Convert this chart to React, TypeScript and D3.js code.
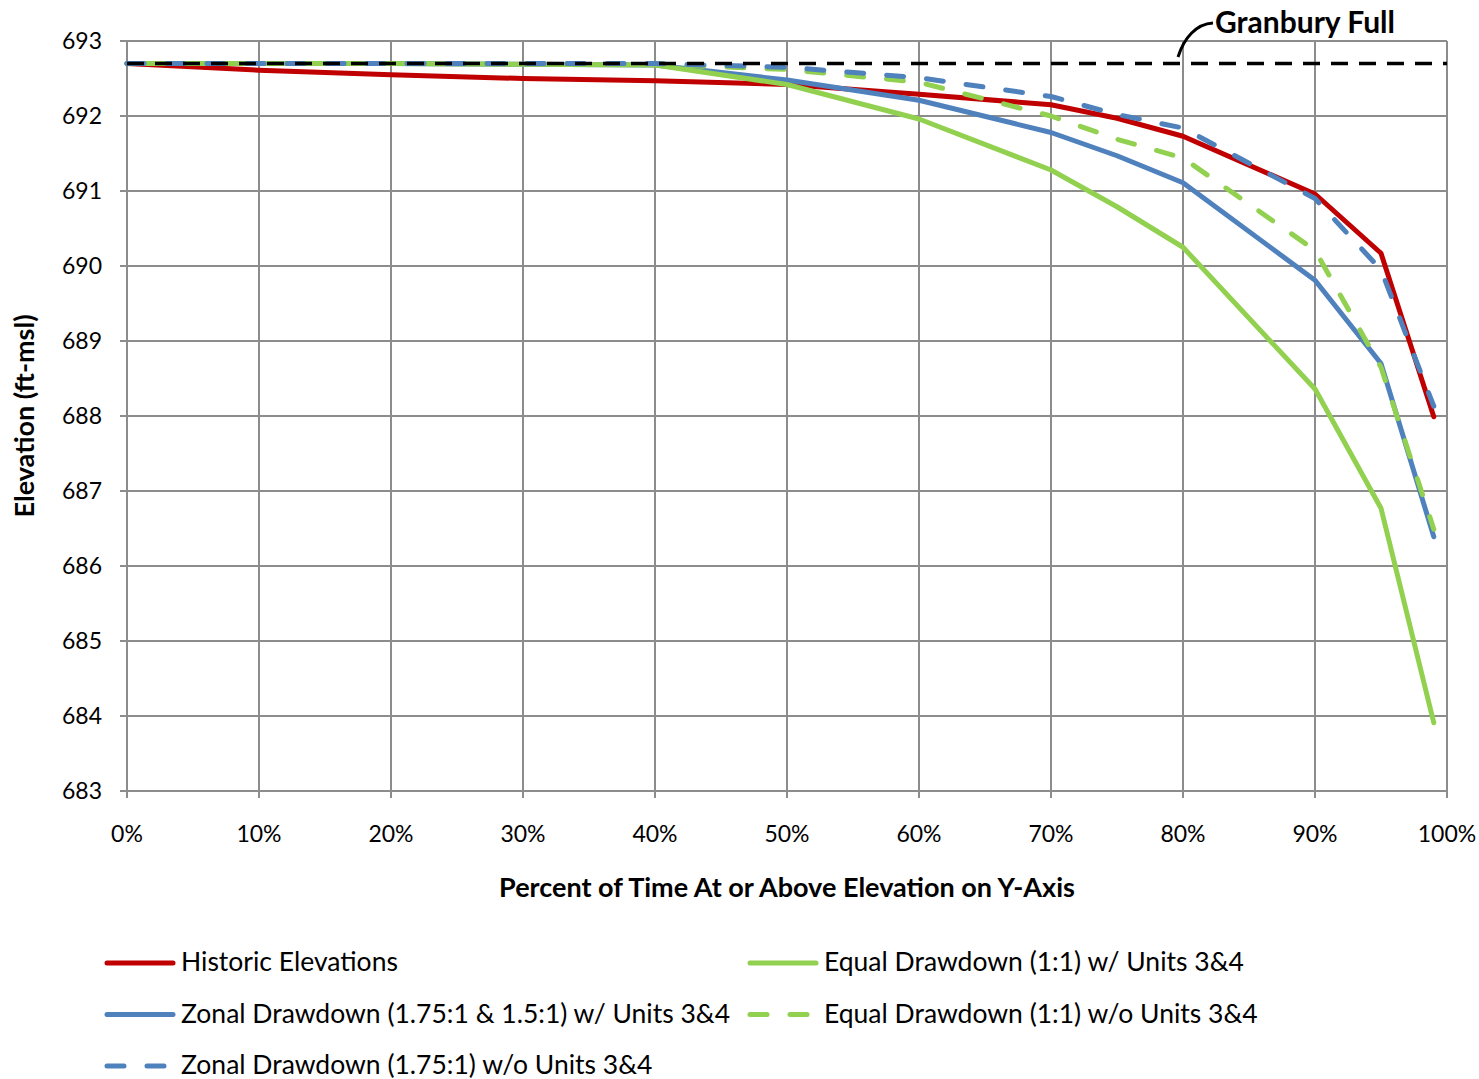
import React from "react";
import * as d3 from "d3";

const pct = [0, 10, 20, 30, 40, 50, 60, 70, 75, 80, 90, 95, 99];
const historic = [692.7, 692.61, 692.55, 692.5, 692.47, 692.42, 692.29, 692.15, 691.97, 691.73, 690.96, 690.17, 687.99];
const zonalWith = [692.7, 692.7, 692.7, 692.69, 692.68, 692.48, 692.21, 691.78, 691.47, 691.11, 689.81, 688.7, 686.39];
const equalWith = [692.7, 692.7, 692.7, 692.69, 692.68, 692.42, 691.96, 691.28, 690.79, 690.25, 688.36, 686.77, 683.91];
const zonalWithout = [692.7, 692.7, 692.7, 692.7, 692.7, 692.65, 692.51, 692.26, 692.02, 691.84, 690.9, 689.95, 688.13];
const equalWithout = [692.7, 692.7, 692.7, 692.7, 692.69, 692.62, 692.45, 692.0, 691.69, 691.44, 690.21, 688.65, 686.49];
const granburyFull = 692.7;
const xTicks = [0, 10, 20, 30, 40, 50, 60, 70, 80, 90, 100];
const yTicks = [683, 684, 685, 686, 687, 688, 689, 690, 691, 692, 693];

const series = [
  { name: "Historic Elevations", values: historic, color: "#C00000", dash: "" },
  { name: "Zonal Drawdown (1.75:1 & 1.5:1) w/ Units 3&4", values: zonalWith, color: "#4F81BD", dash: "" },
  { name: "Equal Drawdown (1:1) w/ Units 3&4", values: equalWith, color: "#92D050", dash: "" },
  { name: "Equal Drawdown (1:1) w/o Units 3&4", values: equalWithout, color: "#92D050", dash: "17 23" },
  { name: "Zonal Drawdown (1.75:1) w/o Units 3&4", values: zonalWithout, color: "#4F81BD", dash: "17 23" },
];

const legendItems = [
  { s: 0, col: 0, row: 0 },
  { s: 2, col: 1, row: 0 },
  { s: 1, col: 0, row: 1 },
  { s: 3, col: 1, row: 1 },
  { s: 4, col: 0, row: 2 },
];

const FONT = "Lato, 'Open Sans', sans-serif";

export default function App() {
  const W = 1479, H = 1079;
  const L = 127, R = 1447, T = 41, B = 791;
  const x = d3.scaleLinear().domain([0, 100]).range([L, R]);
  const y = d3.scaleLinear().domain([683, 693]).range([B, T]);
  const line = d3.line<[number, number]>().x(d => x(d[0])).y(d => y(d[1]));
  const grid = "#8C8C8C";
  return (
    <svg width={W} height={H} style={{ position: "absolute", left: 0, top: 0, background: "#fff" }}>
      {xTicks.map(t => (
        <line key={"gx" + t} x1={x(t)} x2={x(t)} y1={T} y2={B + 7} stroke={grid} strokeWidth={2} />
      ))}
      {yTicks.map(t => (
        <line key={"gy" + t} x1={L - 7} x2={R} y1={y(t)} y2={y(t)} stroke={grid} strokeWidth={2} />
      ))}
      {xTicks.map(t => (
        <text key={"tx" + t} x={x(t)} y={842} fontSize={23} fontFamily={FONT} textAnchor="middle" fill="#000">{t + "%"}</text>
      ))}
      {yTicks.map(t => (
        <text key={"ty" + t} x={102} y={y(t) + 8} fontSize={23} fontFamily={FONT} textAnchor="end" fill="#000">{t}</text>
      ))}
      <text x={787} y={897} fontSize={27} fontWeight="bold" fontFamily={FONT} textAnchor="middle">Percent of Time At or Above Elevation on Y-Axis</text>
      <text transform={`translate(34,416) rotate(-90)`} fontSize={27} fontWeight="bold" fontFamily={FONT} textAnchor="middle">Elevation (ft-msl)</text>
      {series.map((s, i) => (
        <path key={"s" + i} d={line(pct.map((p, j) => [p, s.values[j]]) as [number, number][]) || ""}
          fill="none" stroke={s.color} strokeWidth={5} strokeDasharray={s.dash || undefined}
          strokeLinecap="round" strokeLinejoin="round" />
      ))}
      <line x1={L} x2={R} y1={y(granburyFull)} y2={y(granburyFull)} stroke="#000" strokeWidth={3.5} strokeDasharray="17 11" />
      <path d="M1178,57 C1184,38 1196,24 1213,23" fill="none" stroke="#000" strokeWidth={3} />
      <text x={1215} y={33} fontSize={30} fontWeight="bold" fontFamily={FONT}>Granbury Full</text>
      {legendItems.map((it, k) => {
        const s = series[it.s];
        const lx = it.col === 0 ? 107 : 750;
        const ly = 963 + it.row * 51.5;
        return (
          <g key={"lg" + k}>
            <line x1={lx} x2={lx + 66} y1={ly} y2={ly} stroke={s.color} strokeWidth={5}
              strokeDasharray={s.dash ? "17 23" : undefined} strokeLinecap="round" />
            <text x={lx + 74} y={ly + 8} fontSize={26.5} fontFamily={FONT}>{s.name}</text>
          </g>
        );
      })}
    </svg>
  );
}
